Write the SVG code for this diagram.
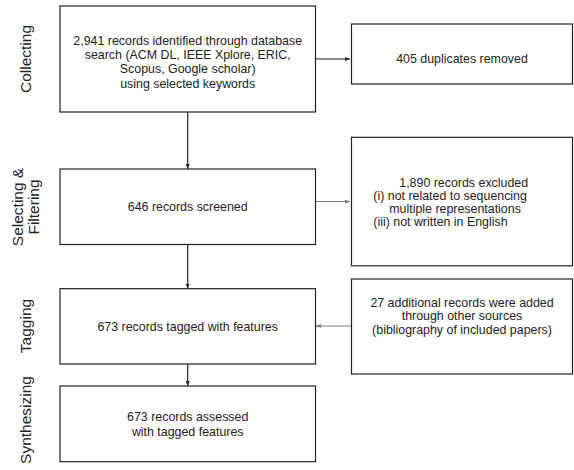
<svg xmlns="http://www.w3.org/2000/svg" width="574" height="470" viewBox="0 0 574 470">
<style>
  .box{fill:#fff;stroke:#222;stroke-width:1.2}
  .t{font-family:"Liberation Sans",Arial,sans-serif;font-size:12.4px;fill:#222}
  .c{text-anchor:middle}
  .side{font-family:"Liberation Sans",Arial,sans-serif;font-size:15.5px;fill:#222;text-anchor:middle}
  .ln{fill:none;stroke:#222;stroke-width:1.2}
  .lg{fill:none;stroke:#7a7a7a;stroke-width:1.2}
</style>
<defs>
  <marker id="ah" markerWidth="5" markerHeight="4" refX="5" refY="2" orient="auto" markerUnits="userSpaceOnUse">
    <path d="M0,0 L5,2 L0,4 Z" fill="#222"/>
  </marker>
  <marker id="ahg" markerWidth="5" markerHeight="4" refX="5" refY="2" orient="auto" markerUnits="userSpaceOnUse">
    <path d="M0,0 L5,2 L0,4 Z" fill="#7a7a7a"/>
  </marker>
</defs>
<rect width="574" height="470" fill="#fff"/>
<g id="stage-labels">
  <text class="side" transform="translate(31,59) rotate(-90)">Collecting</text>
  <text class="side" transform="translate(22.7,207) rotate(-90)">Selecting &amp;</text>
  <text class="side" transform="translate(38.7,207) rotate(-90)">Filtering</text>
  <text class="side" transform="translate(31,326) rotate(-90)">Tagging</text>
  <text class="side" transform="translate(31,420) rotate(-90)">Synthesizing</text>
</g>
<g id="connectors">
  <line class="ln" x1="315.5" y1="59" x2="350" y2="59" marker-end="url(#ah)"/>
  <line class="ln" x1="187.7" y1="112" x2="187.7" y2="169" marker-end="url(#ah)"/>
  <line class="lg" x1="315.5" y1="201.5" x2="350" y2="201.5" marker-end="url(#ahg)"/>
  <line class="ln" x1="187.7" y1="244.5" x2="187.7" y2="288.5" marker-end="url(#ah)"/>
  <line class="lg" x1="351.5" y1="326" x2="316" y2="326" marker-end="url(#ahg)"/>
  <line class="ln" x1="187.7" y1="364" x2="187.7" y2="386" marker-end="url(#ah)"/>
</g>
<g id="n-identified">
  <rect class="box" x="60" y="6" width="255.5" height="106"/>
  <text class="t c" x="187.7" y="45">2,941 records identified through database</text>
  <text class="t c" x="187.7" y="59.2">search (ACM DL, IEEE Xplore, ERIC,</text>
  <text class="t c" x="187.7" y="73.4">Scopus, Google scholar)</text>
  <text class="t c" x="187.7" y="87.6">using selected keywords</text>
</g>
<g id="n-duplicates">
  <rect class="box" x="351.5" y="24" width="221" height="60"/>
  <text class="t c" x="462" y="63.3">405 duplicates removed</text>
</g>
<g id="n-screened">
  <rect class="box" x="60" y="169" width="255.5" height="75.5"/>
  <text class="t c" x="187.7" y="211">646 records screened</text>
</g>
<g id="n-excluded">
  <rect class="box" x="351.5" y="137.3" width="221" height="128.5"/>
  <text class="t c" x="463.7" y="187.3">1,890 records excluded</text>
  <text class="t" x="373.3" y="200.3">(i) not related to sequencing</text>
  <text class="t" x="389.3" y="213.3">multiple representations</text>
  <text class="t" x="373.3" y="226.3">(iii) not written in English</text>
</g>
<g id="n-tagged">
  <rect class="box" x="60" y="288.7" width="255.5" height="75.3"/>
  <text class="t c" x="187.7" y="331">673 records tagged with features</text>
</g>
<g id="n-additional">
  <rect class="box" x="351.5" y="279" width="221" height="95"/>
  <text class="t c" x="462" y="306.8">27 additional records were added</text>
  <text class="t c" x="462" y="320.3">through other sources</text>
  <text class="t c" x="462" y="333.8">(bibliography of included papers)</text>
</g>
<g id="n-assessed">
  <rect class="box" x="60" y="386" width="255.5" height="75.7"/>
  <text class="t c" x="187.7" y="421">673 records assessed</text>
  <text class="t c" x="187.7" y="436">with tagged features</text>
</g>
</svg>
